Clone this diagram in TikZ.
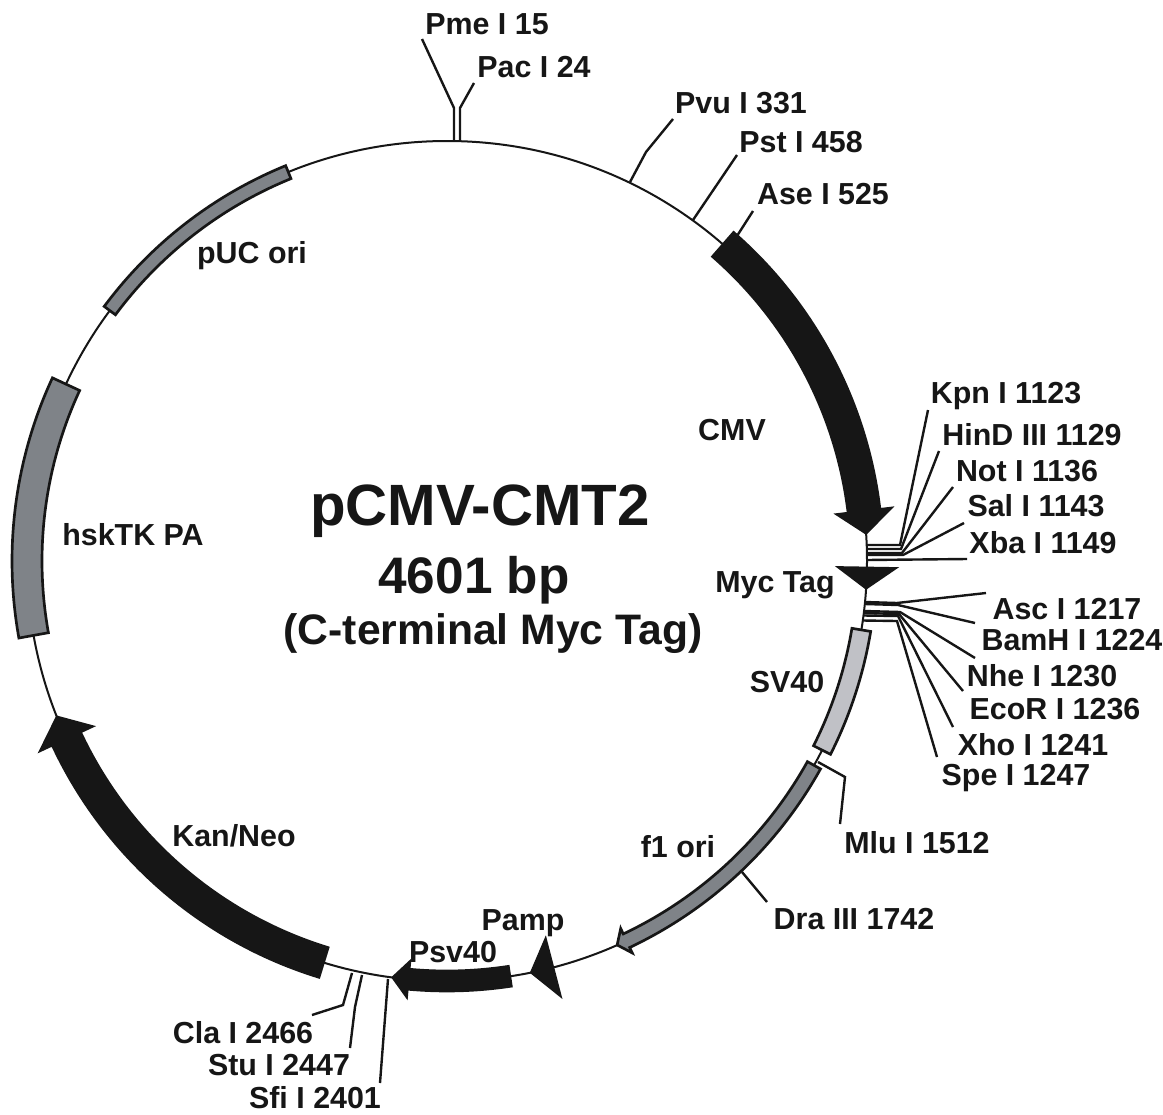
\documentclass[tikz,border=0pt]{standalone}
\usepackage{fontspec}
\setmainfont{Liberation Sans}
\usepackage{xcolor}
\usetikzlibrary{calc}
\definecolor{svgray}{HTML}{C0C1C6}
\definecolor{origray}{HTML}{7F8388}
\definecolor{inkblack}{HTML}{161616}
\tikzset{
  backbone/.style={line width=1.5pt, draw=inkblack},
  siteline/.style={line width=1.8pt, draw=inkblack, line join=miter},
  featline/.style={line width=2pt, draw=inkblack, line join=miter},
  sitelabel/.style={font=\fontsize{22.8}{24}\selectfont\bfseries, text=inkblack, inner sep=0pt},
  titlelabel/.style={font=\fontsize{43.7}{46}\selectfont\bfseries, text=inkblack, inner sep=0pt},
  sizelabel/.style={font=\fontsize{38.5}{40}\selectfont\bfseries, text=inkblack, inner sep=0pt},
  sublabel/.style={font=\fontsize{32}{35}\selectfont\bfseries, text=inkblack, inner sep=0pt},
}
% #1 start, #2 end, #3 width, #4 fill
\newcommand{\featbox}[4]{
  \draw[featline, fill=#4, shift={(ori)}] (#1:{420-#3/2}) arc[start angle=#1, end angle=#2, radius={420-#3/2}]
    -- (#2:{420+#3/2}) arc[start angle=#2, end angle=#1, radius={420+#3/2}] -- cycle;
}
% #1 start, #2 head base, #3 tip, #4 width, #5 head width, #6 fill
\newcommand{\featarrow}[6]{
  \draw[featline, fill=#6, shift={(ori)}] (#1:{420-#4/2}) arc[start angle=#1, end angle=#2, radius={420-#4/2}]
    -- (#2:{420-#5/2}) -- (#3:420) -- (#2:{420+#5/2})
    -- (#2:{420+#4/2}) arc[start angle=#2, end angle=#1, radius={420+#4/2}] -- cycle;
}
\begin{document}
\begin{tikzpicture}[x=0.75pt, y=-0.75pt]
  \useasboundingbox (0,0) rectangle (1163,1114);
  \coordinate (ori) at (447,561);
  \draw[backbone] (ori) circle [radius=420];

  % top sites
  \coordinate (pme0) at (454,141); \coordinate (pme1) at (454,108); \coordinate (pme2) at (422,39);
  \coordinate (pac0) at (460,141); \coordinate (pac1) at (460,108); \coordinate (pac2) at (474,83);
  \coordinate (pvu0) at (630,182); \coordinate (pvu1) at (646,152); \coordinate (pvu2) at (673,119);
  \coordinate (pst0) at (693,220); \coordinate (pst2) at (737,155);
  \coordinate (ase0) at (728,250); \coordinate (ase2) at (753,211);
  \node (pme) [sitelabel] at (487,24) {Pme I 15};
  \node (pac) [sitelabel] at (534,67) {Pac I 24};
  \node (pvu) [sitelabel] at (741,103) {Pvu I 331};
  \node (pst) [sitelabel] at (801,142) {Pst I 458};
  \node (ase) [sitelabel] at (823,194) {Ase I 525};
  \draw[siteline] (pme0)--(pme1)--(pme2);
  \draw[siteline] (pac0)--(pac1)--(pac2);
  \draw[siteline] (pvu0)--(pvu1)--(pvu2);
  \draw[siteline] (pst0)--(pst2);
  \draw[siteline] (ase0)--(ase2);

  % upper polylinker
  \coordinate (kpn0) at (866,545); \coordinate (kpn1) at (900,545); \coordinate (kpn2) at (928,410);
  \coordinate (hin0) at (866,549); \coordinate (hin1) at (901,549); \coordinate (hin2) at (939,451);
  \coordinate (not0) at (866,553); \coordinate (not1) at (902,553); \coordinate (not2) at (953,487);
  \coordinate (sal0) at (866,555); \coordinate (sal1) at (903,555); \coordinate (sal2) at (964,523);
  \coordinate (xba0) at (866,560); \coordinate (xba2) at (967,559);
  \node (kpn) [sitelabel] at (1006,396) {Kpn I 1123};
  \node (hin) [sitelabel] at (1032,435) {HinD III 1129};
  \node (not) [sitelabel] at (1027,471) {Not I 1136};
  \node (sal) [sitelabel] at (1036,506) {Sal I 1143};
  \node (xba) [sitelabel] at (1043,543) {Xba I 1149};
  \draw[siteline] (kpn0)--(kpn1)--(kpn2);
  \draw[siteline] (hin0)--(hin1)--(hin2);
  \draw[siteline] (not0)--(not1)--(not2);
  \draw[siteline] (sal0)--(sal1)--(sal2);
  \draw[siteline] (xba0)--(xba2);

  % lower polylinker
  \coordinate (asc0) at (865,602); \coordinate (asc1) at (897,603); \coordinate (asc2) at (986,593);
  \coordinate (bam0) at (865,604); \coordinate (bam1) at (898,605); \coordinate (bam2) at (975,623);
  \coordinate (nhe0) at (864,611); \coordinate (nhe1) at (900,612); \coordinate (nhe2) at (975,658);
  \coordinate (eco0) at (864,613); \coordinate (eco1) at (899,614); \coordinate (eco2) at (963,691);
  \coordinate (xho0) at (864,615.5); \coordinate (xho1) at (898,616); \coordinate (xho2) at (953,727);
  \coordinate (spe0) at (863,620.5); \coordinate (spe1) at (897,621); \coordinate (spe2) at (937,757);
  \node (asc) [sitelabel] at (1067,609) {Asc I 1217};
  \node (bam) [sitelabel] at (1072,640) {BamH I 1224};
  \node (nhe) [sitelabel] at (1042,676) {Nhe I 1230};
  \node (eco) [sitelabel] at (1055,709) {EcoR I 1236};
  \node (xho) [sitelabel] at (1033,745) {Xho I 1241};
  \node (spe) [sitelabel] at (1016,778) {Spe I 1247};
  \draw[siteline] (asc0)--(asc1)--(asc2);
  \draw[siteline] (bam0)--(bam1)--(bam2);
  \draw[siteline] (nhe0)--(nhe1)--(nhe2);
  \draw[siteline] (eco0)--(eco1)--(eco2);
  \draw[siteline] (xho0)--(xho1)--(xho2);
  \draw[siteline] (spe0)--(spe1)--(spe2);

  % bottom sites
  \coordinate (mlu0) at (818,762); \coordinate (mlu1) at (845,777); \coordinate (mlu2) at (840,824);
  \coordinate (dra0) at (742,872); \coordinate (dra2) at (767,902);
  \coordinate (cla0) at (352,973); \coordinate (cla1) at (343,1005); \coordinate (cla2) at (312,1015);
  \coordinate (stu0) at (362,975); \coordinate (stu1) at (355,1007); \coordinate (stu2) at (350,1048);
  \coordinate (sfi0) at (388,979); \coordinate (sfi2) at (380,1083);
  \node (mlu) [sitelabel] at (917,843) {Mlu I 1512};
  \node (dra) [sitelabel] at (854,919) {Dra III 1742};
  \node (cla) [sitelabel] at (243,1033) {Cla I 2466};
  \node (stu) [sitelabel] at (279,1065) {Stu I 2447};
  \node (sfi) [sitelabel] at (315,1098) {Sfi I 2401};
  \draw[siteline] (mlu0)--(mlu1)--(mlu2);
  \draw[siteline] (dra0)--(dra2);
  \draw[siteline] (cla0)--(cla1)--(cla2);
  \draw[siteline] (stu0)--(stu1)--(stu2);
  \draw[siteline] (sfi0)--(sfi2);

  % features
  \featarrow{-48.9}{-6.8}{-3.8}{32}{54}{inkblack}
  \featarrow{0.95}{0.95}{3.7}{0}{56}{inkblack}
  \featbox{9.44}{26.75}{19}{svgray}
  \featarrow{29.1}{64.7}{66.1}{15}{27}{origray}
  \featarrow{75.4}{75.4}{78.4}{0}{58}{inkblack}
  \featarrow{81.4}{95.3}{97.4}{20}{35}{inkblack}
  \featarrow{107.1}{155}{158.2}{31}{57}{inkblack}
  \featbox{204.9}{169.8}{30}{origray}
  \featbox{247.8}{216.6}{14}{origray}

  % feature names
  \node (cmv) [sitelabel] at (732,430) {CMV};
  \node (myc) [sitelabel] at (775,585) {Myc Tag};
  \node (sv) [sitelabel] at (787,682) {SV40};
  \node (fori) [sitelabel] at (678,847) {f1 ori};
  \node (pamp) [sitelabel] at (523,923) {Pamp};
  \node (psv) [sitelabel] at (453,952) {Psv40};
  \node (kan) [sitelabel] at (234,836) {Kan/Neo};
  \node (tk) [sitelabel] at (133,535) {hskTK PA};
  \node (puc) [sitelabel] at (252,256) {pUC ori};

  % title
  \node (title) [titlelabel] at (480,511) {pCMV-CMT2};
  \node (size) [sizelabel] at (474,580) {4601 bp};
  \node (term) [sublabel] at (493,634) {(C-terminal Myc Tag)};
\end{tikzpicture}
\end{document}
